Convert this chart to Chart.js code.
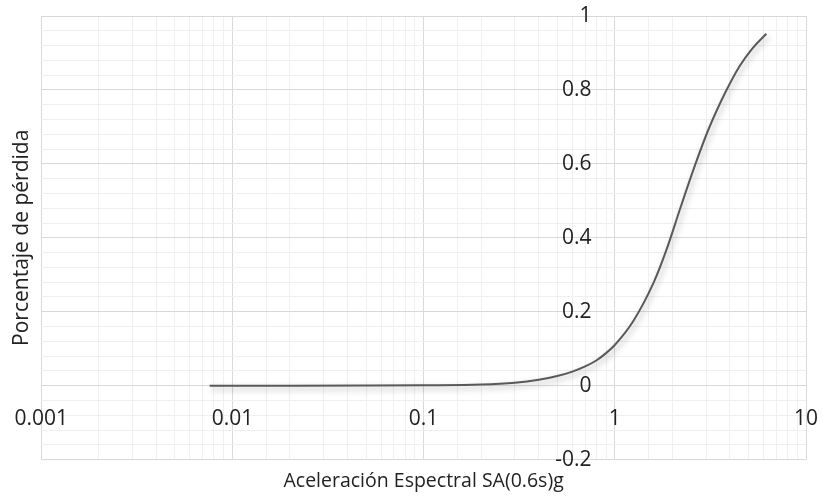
<!DOCTYPE html>
<html>
<head>
<meta charset="utf-8">
<script src="https://cdn.jsdelivr.net/npm/chart.js@4/dist/chart.umd.min.js"></script>
<style>
html,body{margin:0;padding:0;background:#fff;}
canvas{display:block;}
</style>
</head>
<body>
<canvas id="c" width="823" height="499"></canvas>
<script>
// Data
const saValues = [0.0076, 0.02, 0.05, 0.1, 0.2, 0.3, 0.4, 0.5, 0.6, 0.7, 0.8, 0.9, 1.0, 1.25, 1.6, 1.87, 2.2, 2.6, 3.1, 3.8, 4.5, 5.2, 6.2];
const lossValues = [0, 0, 0.0003, 0.001, 0.003, 0.008, 0.016, 0.026, 0.038, 0.052, 0.068, 0.088, 0.11, 0.175, 0.28, 0.37, 0.48, 0.59, 0.695, 0.795, 0.865, 0.91, 0.952];
const xTickLabels = ['0.001', '0.01', '0.1', '1', '10'];
const yTickLabels = ['-0.2', '0', '0.2', '0.4', '0.6', '0.8', '1'];
const xTitle = 'Aceleración Espectral SA(0.6s)g';
const yTitle = 'Porcentaje de pérdida';

const FONT = "'Open Sans', sans-serif";
const points = saValues.map((x, i) => ({x: x, y: lossValues[i]}));

const isDecade = v => Math.abs(Math.log10(v) - Math.round(Math.log10(v))) < 1e-6;
const isMajorY = v => Math.abs(v / 0.2 - Math.round(v / 0.2)) < 1e-6;

const shadowPlugin = {
  id: 'lineShadow',
  beforeDatasetDraw(chart) {
    const ctx = chart.ctx;
    ctx.save();
    ctx.shadowColor = 'rgba(0,0,0,0.30)';
    ctx.shadowBlur = 6;
    ctx.shadowOffsetX = 2;
    ctx.shadowOffsetY = 3;
  },
  afterDatasetDraw(chart) {
    chart.ctx.restore();
  }
};

const noPad = s => { s.paddingLeft = 0; s.paddingRight = 0; s.paddingTop = 0; s.paddingBottom = 0; };

new Chart(document.getElementById('c'), {
  type: 'scatter',
  data: {
    datasets: [{
      data: points,
      showLine: true,
      borderColor: '#595959',
      borderWidth: 2,
      pointRadius: 0,
      cubicInterpolationMode: 'monotone',
      xAxisID: 'x',
      yAxisID: 'y'
    }]
  },
  options: {
    responsive: false,
    animation: false,
    devicePixelRatio: 1,
    layout: {padding: {top: 16, right: 17, left: 0, bottom: 6}},
    plugins: {legend: {display: false}, tooltip: {enabled: false}},
    scales: {
      x: {
        type: 'logarithmic',
        min: 0.001,
        max: 10,
        position: {y: 0},
        border: {display: false},
        afterFit: noPad,
        grid: {
          drawTicks: false,
          lineWidth: 1,
          color: ctx => (ctx.tick && isDecade(ctx.tick.value)) ? '#d9d9d9' : '#efefef'
        },
        ticks: {
          autoSkip: false,
          maxRotation: 0,
          padding: 21,
          color: '#222',
          font: {family: FONT, size: 21},
          callback: v => isDecade(v) ? xTickLabels[Math.round(Math.log10(v)) + 3] : ''
        }
      },
      y: {
        type: 'linear',
        min: -0.2,
        max: 1,
        position: {x: 0.755},
        border: {display: false},
        afterFit: noPad,
        grid: {
          drawTicks: false,
          lineWidth: 1,
          color: ctx => (ctx.tick && isMajorY(ctx.tick.value)) ? '#d9d9d9' : '#efefef'
        },
        ticks: {
          stepSize: 0.04,
          autoSkip: false,
          padding: 0,
          color: '#222',
          font: {family: FONT, size: 21},
          callback: v => isMajorY(v) ? yTickLabels[Math.round(v / 0.2) + 1] : ''
        }
      },
      xT: {
        type: 'linear',
        position: 'bottom',
        border: {display: false},
        afterFit: noPad,
        grid: {display: false, drawTicks: false},
        ticks: {display: false},
        title: {display: true, text: xTitle, color: '#222', font: {family: FONT, size: 19.5}, padding: {top: 10, bottom: 0}}
      },
      yT: {
        type: 'linear',
        position: 'left',
        border: {display: false},
        afterFit: noPad,
        grid: {display: false, drawTicks: false},
        ticks: {display: false},
        title: {display: true, text: yTitle, color: '#222', font: {family: FONT, size: 21}, padding: {top: 9, bottom: 7}}
      }
    }
  },
  plugins: [shadowPlugin]
});
</script>
</body>
</html>
